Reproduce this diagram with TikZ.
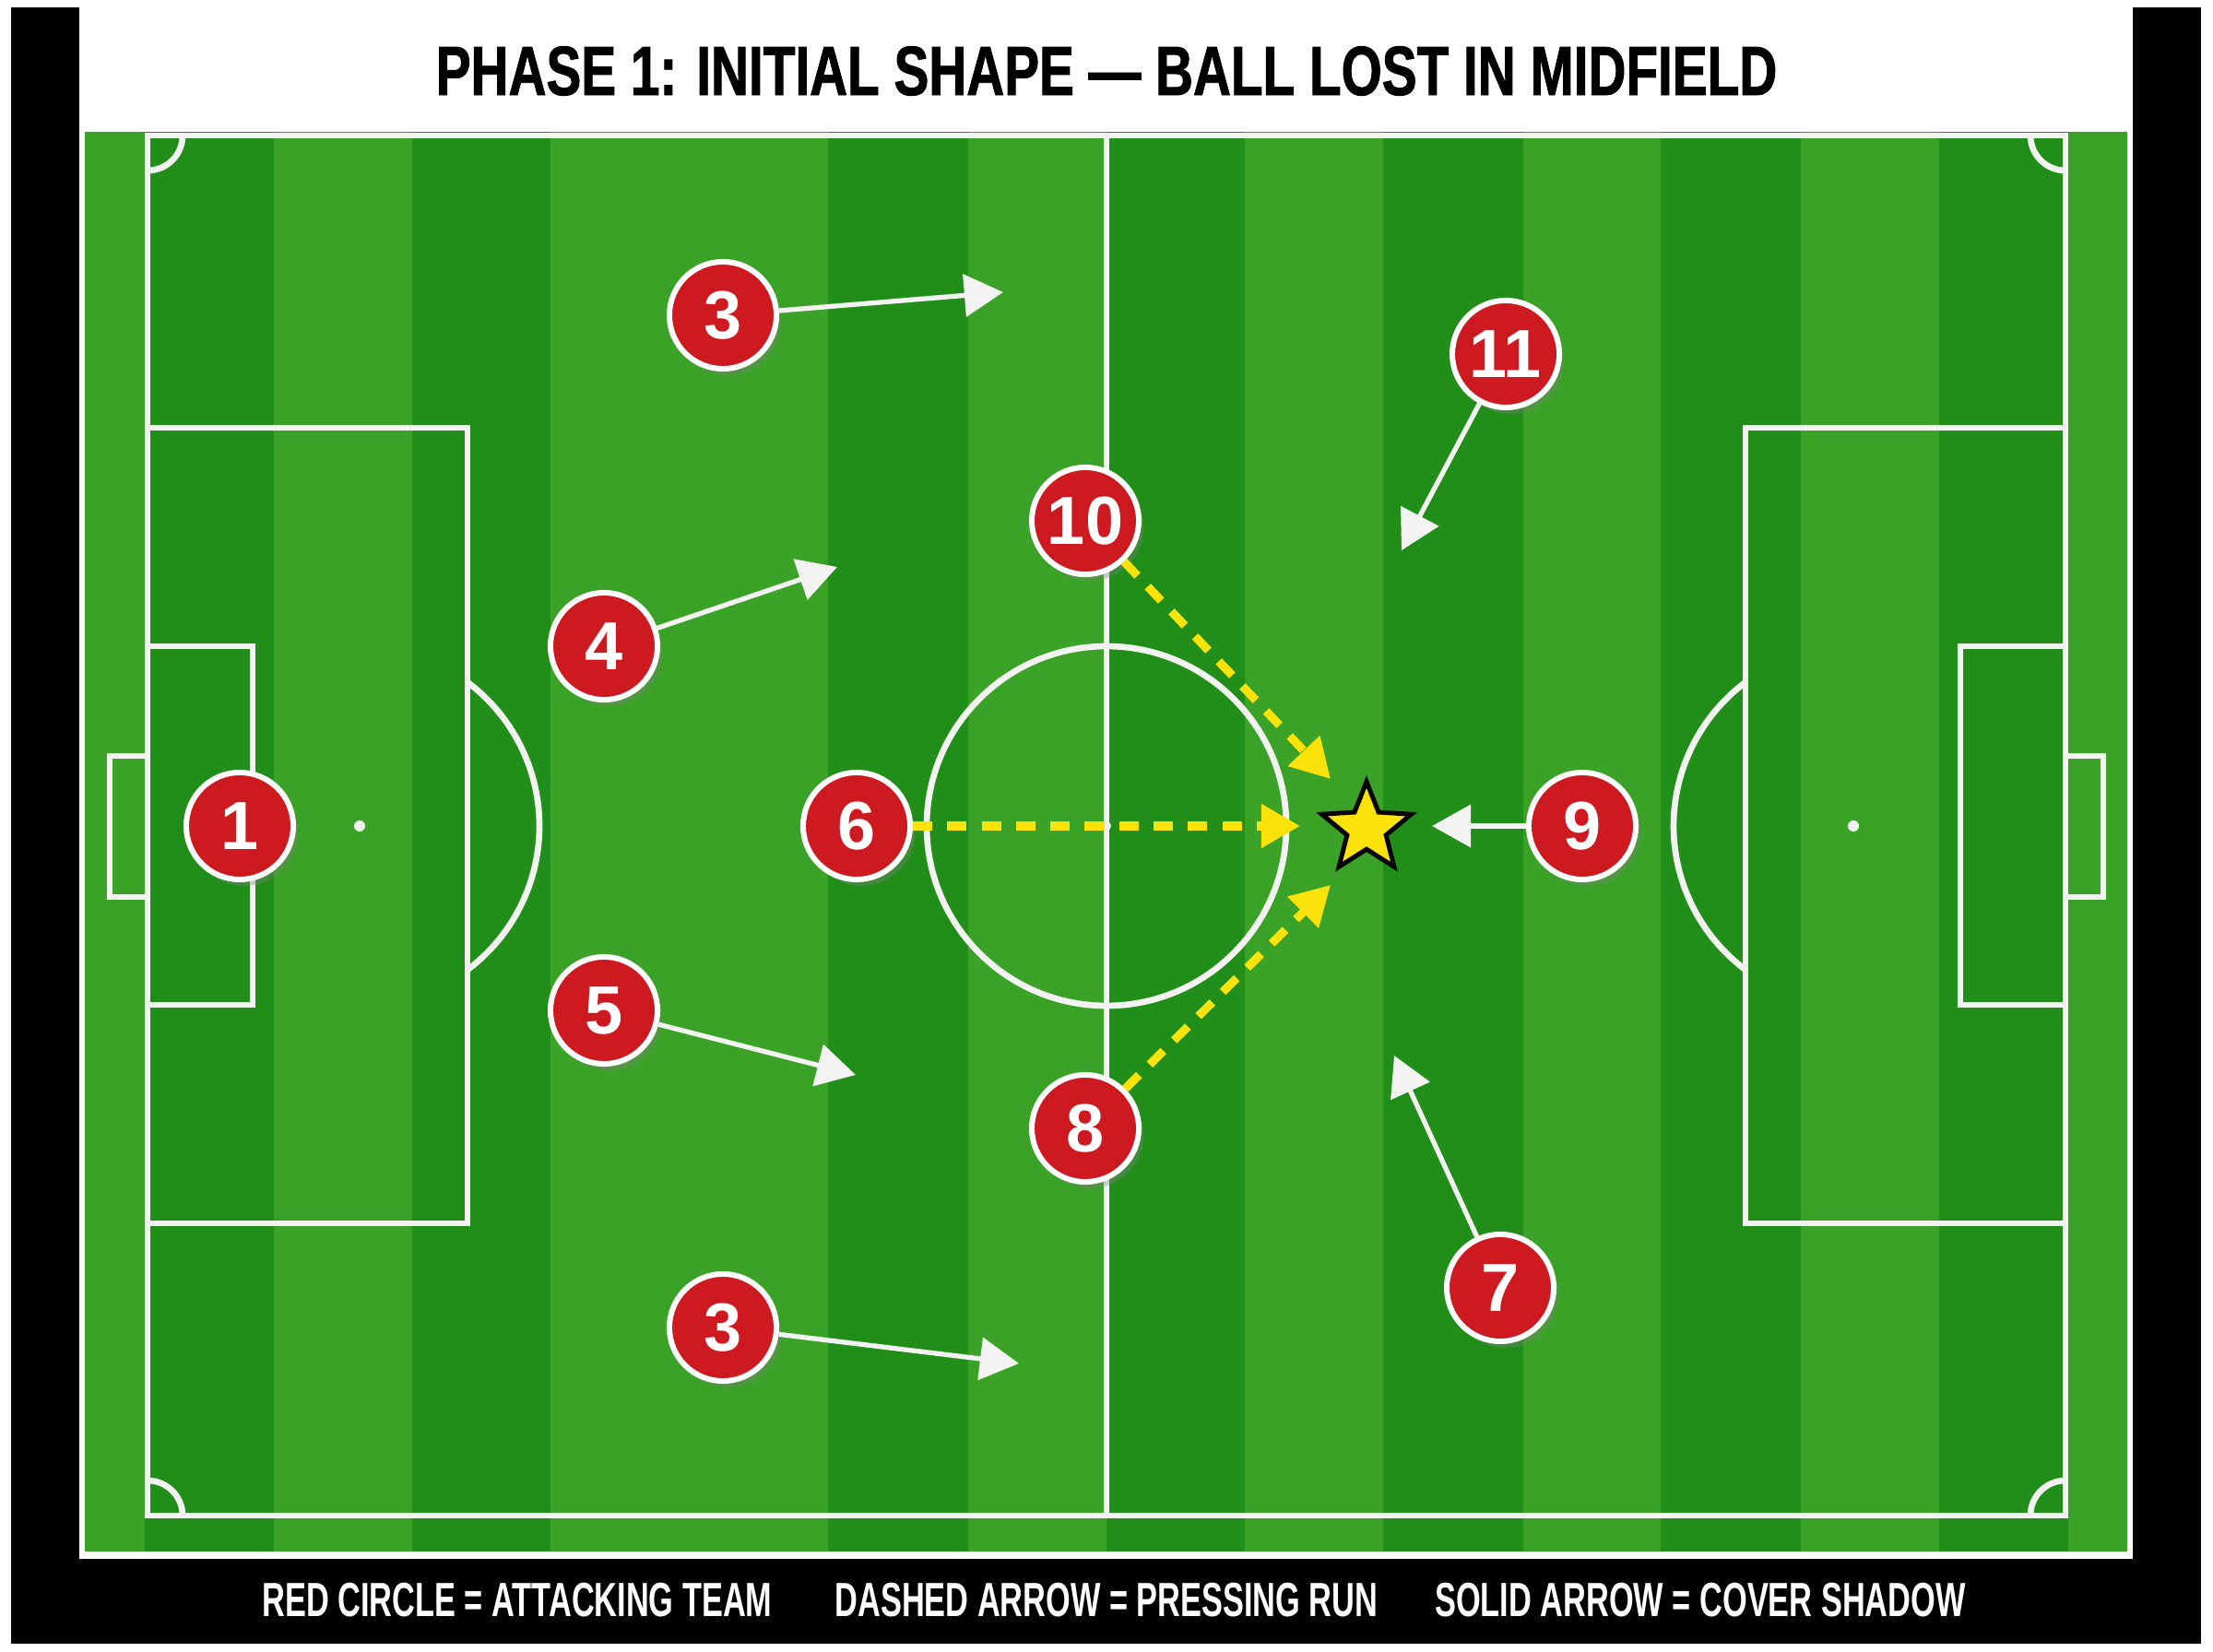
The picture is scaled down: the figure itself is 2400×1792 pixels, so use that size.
\documentclass[tikz,border=0pt]{standalone}
\usepackage{fontspec}
\setmainfont{Liberation Sans}
\newfontfamily\headfont[FakeStretch=0.75,FakeBold=1.2]{Liberation Sans}
\newfontfamily\keyfont[FakeStretch=0.66]{Liberation Sans}
\usetikzlibrary{arrows.meta,shapes.geometric,shadows}
\definecolor{lawnA}{RGB}{34,142,26}
\definecolor{lawnB}{RGB}{58,162,38}
\definecolor{kitred}{RGB}{205,26,32}
\definecolor{pressyellow}{RGB}{250,226,10}
\definecolor{chalk}{RGB}{243,243,241}

\begin{document}
\begin{tikzpicture}[x=0.01cm,y=-0.01cm,
  pitchline/.style={draw=chalk,line width=1.9pt},
  player/.style={circle,draw=white,line width=1.7pt,fill=kitred,text=white,
    minimum size=1.16cm,inner sep=0pt,font=\bfseries\fontsize{21}{21}\selectfont,
    drop shadow={shadow xshift=1.5pt,shadow yshift=-2pt,opacity=0.35}},
  cover/.style={draw=chalk,line width=1.5pt,-{Triangle[length=12pt,width=13pt]}},
  press/.style={draw=pressyellow,line width=2.6pt,dash pattern=on 6pt off 4.6pt,
    -{Triangle[length=12pt,width=13pt]}},
  legendtext/.style={text=white,font=\keyfont\bfseries\fontsize{14.8}{14.8}\selectfont}
]
\useasboundingbox (0,0) rectangle (2400,1792);
\fill[white] (0,0) rectangle (2400,1792);
\fill[black] (12,8) rectangle (2387,1783);
\fill[white] (86,8) rectangle (2313,1691);

\foreach \xa/\xb/\c in {92/157/lawnB,157/297/lawnA,297/447/lawnB,447/597/lawnA,
  597/898/lawnB,898/1050/lawnA,1050/1200/lawnB,1200/1350/lawnA,1350/1500/lawnB,
  1500/1652/lawnA,1652/1801/lawnB,1801/1953/lawnA,1953/2103/lawnB,2103/2243/lawnA,
  2243/2307/lawnB}
  \fill[\c] (\xa,143) rectangle (\xb,1683);

\draw[pitchline] (160,147) rectangle (2240,1644);
\draw[pitchline] (1200,147) -- (1200,1644);
\draw[pitchline] (1200,896) circle[radius=195];
\fill[chalk] (1200,896) circle[radius=5];
\draw[pitchline] (160,464) rectangle (507,1327);
\draw[pitchline] (160,701) rectangle (274,1090);
\draw[pitchline] (160,820) -- (119,820) -- (119,973) -- (160,973);
\fill[chalk] (390,896) circle[radius=6];
\draw[pitchline] (390,896) ++(-53.13:195) arc[start angle=-53.13,end angle=53.13,radius=195];
\draw[pitchline] (1893,464) rectangle (2240,1327);
\draw[pitchline] (2126,701) rectangle (2240,1090);
\draw[pitchline] (2240,820) -- (2281,820) -- (2281,973) -- (2240,973);
\fill[chalk] (2010,896) circle[radius=6];
\draw[pitchline] (2010,896) ++(126.87:195) arc[start angle=126.87,end angle=233.13,radius=195];
\draw[pitchline] (198,147) arc[start angle=0,end angle=90,radius=38];
\draw[pitchline] (2240,185) arc[start angle=90,end angle=180,radius=38];
\draw[pitchline] (160,1606) arc[start angle=270,end angle=360,radius=38];
\draw[pitchline] (2202,1644) arc[start angle=180,end angle=270,radius=38];

\node[font=\headfont\bfseries\fontsize{21.5}{21.5}\selectfont] (title) at (1200,77)
  {PHASE 1: INITIAL SHAPE — BALL LOST IN MIDFIELD};
\node[legendtext] (keyred) at (561,1736) {RED CIRCLE = ATTACKING TEAM};
\node[legendtext] (keydash) at (1200,1736) {DASHED ARROW = PRESSING RUN};
\node[legendtext] (keysolid) at (1844,1736) {SOLID ARROW = COVER SHADOW};

\node[star,star points=5,star point ratio=2.3,draw=black,line width=1.4pt,
  fill=pressyellow,minimum size=1.02cm,inner sep=0pt] (ball) at (1482,899) {};

\node[player] (p1) at (260,896) {1};
\node[player] (p3a) at (784,342) {3};
\node[player] (p3b) at (784,1440) {3};
\node[player] (p4) at (655,701) {4};
\node[player] (p5) at (655,1096) {5};
\node[player] (p6) at (929,896) {6};
\node[player] (p10) at (1177,565) {10};
\node[player] (p8) at (1177,1224) {8};
\node[player] (p11) at (1633,384) {11};
\node[player] (p9) at (1716,896) {9};
\node[player] (p7) at (1627,1397) {7};

\coordinate (t3a) at (1088,317);
\coordinate (t4) at (908,615);
\coordinate (t5) at (928,1166);
\coordinate (t3b) at (1105,1479);
\coordinate (t11) at (1520,597);
\coordinate (t7) at (1512,1145);
\coordinate (t9) at (1553,896);
\coordinate (t10) at (1443,845);
\coordinate (t6) at (1410,896);
\coordinate (t8) at (1443,960);

\draw[cover] (p3a) -- (t3a);
\draw[cover] (p4) -- (t4);
\draw[cover] (p5) -- (t5);
\draw[cover] (p3b) -- (t3b);
\draw[cover] (p11) -- (t11);
\draw[cover] (p7) -- (t7);
\draw[cover] (p9) -- (t9);
\draw[press] (p10) -- (t10);
\draw[press] (p6) -- (t6);
\draw[press] (p8) -- (t8);
\end{tikzpicture}
\end{document}
